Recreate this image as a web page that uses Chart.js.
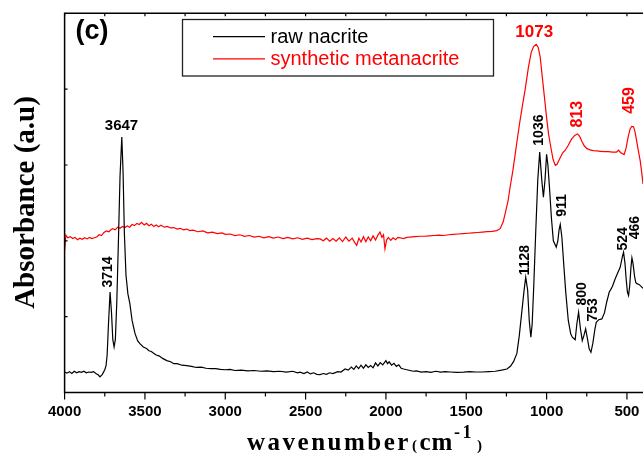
<!DOCTYPE html>
<html><head><meta charset="utf-8">
<script src="https://cdn.jsdelivr.net/npm/chart.js@4.4.1/dist/chart.umd.min.js"></script>
<style>
html,body{margin:0;padding:0;background:#fff;overflow:hidden;}
#wrap{position:relative;width:643px;height:455px;}
</style></head><body>
<div id="wrap"><canvas id="c" width="643" height="455"></canvas></div>
<script>
// ---------- data ----------
const seriesNames = ['raw nacrite', 'synthetic metanacrite'];

const blackWn = [4000,3985,3970,3955,3940,3925,3910,3895,3880,3865,3850,3835,3820,3805,3790,3780,3765,3750,3742,3735,3727,3717,3708,3700,3692,3684,3675,3665,3655,3644,3636,3628,3618,3606,3594,3580,3562,3545,3530,3510,3490,3475,3460,3448,3430,3410,3390,3364,3340,3320,3300,3270,3240,3210,3180,3150,3120,3090,3060,3030,3000,2970,2940,2900,2860,2820,2780,2740,2700,2660,2620,2580,2550,2535,2510,2490,2470,2450,2430,2410,2390,2370,2350,2330,2300,2280,2254,2235,2215,2200,2185,2170,2155,2140,2125,2110,2095,2080,2065,2050,2035,2020,2000,1990,1980,1965,1950,1935,1920,1905,1890,1870,1850,1830,1810,1780,1750,1720,1690,1660,1630,1600,1560,1517,1480,1440,1400,1360,1320,1280,1247,1225,1205,1185,1170,1155,1140,1130,1118,1108,1098,1090,1080,1068,1055,1043,1030,1020,1010,1000,992,982,970,958,940,930,922,915,905,892,880,865,850,840,822,812,801,790,778,768,757,745,735,724,712,700,691,675,656,640,625,610,600,590,573,555,542,530,521,512,505,497,490,483,475,469,462,452,445,438,425,412,400];
const blackAbs = [5.4,5.1,5.5,5.0,5.6,5.2,5.5,5.3,5.6,5.2,5.4,5.3,5.5,5.0,4.6,4.1,4.8,6.0,7.1,10,18,26.5,21,14,12,14,24,40,57,67.4,58,42,31,26,23.5,19,15.6,13.6,12.8,12.0,11.6,11.0,10.8,10.4,9.9,9.6,9.0,8.4,8.1,7.6,7.6,7.2,7.1,6.9,6.6,6.7,6.4,6.3,6.3,6.1,6.0,6.1,5.8,5.9,5.7,5.8,5.6,5.7,5.5,5.6,5.4,5.6,5.2,5.35,5.0,5.4,4.9,5.2,4.8,4.7,5.0,4.8,5.2,5.0,5.5,5.4,6.2,5.9,6.7,6.1,7.0,6.3,7.2,6.4,7.3,6.6,7.1,6.5,7.8,7.0,7.9,7.3,8.4,7.6,8.1,7.2,7.7,6.9,7.3,6.4,6.2,6.0,5.8,5.6,5.7,5.4,5.5,5.3,5.6,5.4,5.5,5.4,5.3,5.35,5.5,5.4,5.4,5.5,5.6,5.9,6.2,6.9,8.2,10.3,15,21,27,30.4,27,19,14.6,18,28,42,56,63.4,56,51.5,56,62.8,60,54,46,40,38.3,40,43,44.3,41,33,26,19,15.5,14.6,13.9,18,21.2,17,13.7,15,16.8,14,11.5,10.6,13,16.5,18.5,19.2,19.4,21,24,26.5,27.2,28,30,31.8,33,35.5,37,34,30,26.5,25.6,28,33,35.5,34,30.5,29,28.7,28.5,28,27.5];

const redWn = [4000,3992,3980,3965,3950,3935,3920,3905,3890,3875,3860,3845,3830,3815,3800,3785,3770,3755,3740,3725,3710,3700,3685,3670,3655,3640,3625,3610,3595,3580,3565,3550,3535,3521,3505,3490,3475,3460,3445,3430,3415,3400,3380,3360,3340,3320,3300,3280,3260,3240,3220,3200,3170,3140,3110,3080,3050,3020,3000,2970,2940,2910,2880,2850,2820,2790,2760,2730,2700,2670,2640,2610,2580,2550,2520,2490,2460,2430,2410,2390,2370,2350,2330,2310,2290,2270,2250,2230,2210,2195,2182,2168,2155,2140,2125,2110,2095,2080,2065,2050,2037,2025,2015,2006,1996,1985,1970,1955,1940,1925,1912,1890,1870,1850,1820,1790,1760,1730,1700,1670,1640,1610,1580,1550,1520,1490,1460,1430,1400,1370,1340,1310,1289,1270,1258,1240,1227,1210,1195,1180,1165,1150,1135,1113,1095,1080,1065,1052,1040,1029,1015,1000,988,975,960,946,935,920,900,884,865,845,825,808,795,780,765,749,730,710,687,665,640,615,590,565,552,540,530,517,505,492,480,470,459,450,440,430,417,408,400];
const redAbs = [37.5,41.5,40.8,41.1,40.6,40.9,40.3,40.7,40.4,40.8,40.5,40.9,40.6,40.8,41.0,41.6,41.4,42.2,42.6,42.4,43.0,43.2,42.9,43.6,43.3,43.8,43.5,43.9,43.6,44.3,44.0,44.6,44.3,44.9,44.2,44.6,44.0,44.4,43.8,44.2,43.7,44.1,43.6,43.8,43.4,43.5,43.1,43.3,42.9,43.1,42.7,42.8,42.4,42.6,42.1,42.3,41.9,42.1,41.7,41.8,41.4,41.6,41.2,41.4,41.0,41.2,40.8,41.1,40.7,41.0,40.6,40.9,40.5,40.8,40.4,40.7,40.3,40.6,40.5,40.0,40.7,39.9,40.6,39.9,40.8,39.8,41.0,39.9,40.7,39.6,38.8,40.7,39.7,41.1,39.8,41.0,40.0,41.3,40.2,41.5,42.3,40.9,41.6,37.9,40.2,40.9,40.1,40.8,40.3,40.9,40.8,40.6,40.9,41.0,41.1,41.2,41.2,41.3,41.4,41.5,41.4,41.6,41.7,41.8,41.9,42.0,42.1,42.2,42.3,42.4,42.5,42.7,43.2,45.0,47.2,50.5,54.2,58.5,63,67.5,71.8,75.8,79.5,85.8,89.8,91.3,91.8,91.0,88.5,84.1,78.5,72.5,68.2,65,61.5,59.9,60.2,61.5,63.2,63.9,65.2,66.8,67.8,68.2,67.6,66.2,65.0,64.3,64.0,63.8,63.7,63.6,63.5,63.5,63.4,63.4,63.9,63.3,63.0,62.8,64.5,67.5,69.5,70.2,70.1,68.8,66.5,64.0,61.0,58.0,55.0];

const xTickValues = [4000,3500,3000,2500,2000,1500,1000,500];
const xMinorTickValues = [3750,3250,2750,2250,1750,1250,750];
const yTickValues = [20,40,60,80];

const blackPeakTexts = ['3647','3714','1128','1036','911','800','753','524','466'];
const redPeakTexts = ['1073','813','459'];
const xTitleMain = 'wavenumber', xTitleUnit = 'cm', xTitleExp = '-1';
const yTitle = 'Absorbance (a.u)';
const panelTag = '(c)';

// ---------- layout / style (not data) ----------
// anchor of each label in chart coordinates [wavenumber, absorbance], rotated flag
const blackPeakAnchors = [[3646,70.3,0],[3727,31.8,1],[1133,34.9,1],[1047,69.2,1],[903,49.3,1],[780,26.0,1],[708,21.8,1],[523,40.5,1],[450,43.5,1]];
const redPeakAnchors = [[1077,95.0,0],[806,73.4,1],[484,77.0,1]];

const toXY = (wn, ab) => wn.map((w, i) => ({x: w, y: ab[i]}));

const decor = {
  id: 'decor',
  afterDraw(chart) {
    const {ctx, chartArea: a, scales: {x, y}} = chart;
    ctx.save();
    ctx.strokeStyle = '#000';
    ctx.lineWidth = 1.5;
    ctx.beginPath();
    ctx.moveTo(a.left, a.top); ctx.lineTo(a.right + 3, a.top);
    ctx.moveTo(a.left, a.top - 0.7); ctx.lineTo(a.left, a.bottom + 0.7);
    ctx.moveTo(a.left, a.bottom); ctx.lineTo(a.right + 3, a.bottom);
    ctx.stroke();
    ctx.lineWidth = 1.2;
    ctx.beginPath();
    xTickValues.forEach(w => {
      const p = x.getPixelForValue(w);
      ctx.moveTo(p, a.bottom); ctx.lineTo(p, a.bottom + 7);
      ctx.moveTo(p, a.top); ctx.lineTo(p, a.top + 3);
    });
    xMinorTickValues.forEach(w => {
      const p = x.getPixelForValue(w);
      ctx.moveTo(p, a.bottom); ctx.lineTo(p, a.bottom + 4);
      ctx.moveTo(p, a.top); ctx.lineTo(p, a.top + 3);
    });
    yTickValues.forEach(v => {
      const p = y.getPixelForValue(v);
      ctx.moveTo(a.left, p); ctx.lineTo(a.left + 3, p);
    });
    ctx.stroke();

    const drawLabel = (txt, anc, font, color) => {
      const px = x.getPixelForValue(anc[0]);
      const py = y.getPixelForValue(anc[1]);
      ctx.save();
      ctx.translate(px, py);
      if (anc[2]) ctx.rotate(-Math.PI / 2);
      ctx.font = font;
      ctx.fillStyle = color;
      ctx.textAlign = 'center';
      ctx.textBaseline = 'middle';
      ctx.fillText(txt, 0, 0);
      ctx.restore();
    };
    blackPeakTexts.forEach((t, i) => {
      const anc = blackPeakAnchors[i];
      drawLabel(t, anc, anc[2] ? 'bold 14px "Liberation Sans"' : 'bold 15px "Liberation Sans"', '#000');
    });
    redPeakTexts.forEach((t, i) => {
      const anc = redPeakAnchors[i];
      drawLabel(t, anc, anc[2] ? 'bold 16px "Liberation Sans"' : 'bold 17px "Liberation Sans"', '#ff0000');
    });

    ctx.font = 'bold 27px "Liberation Sans"';
    ctx.fillStyle = '#000';
    ctx.textAlign = 'center';
    ctx.textBaseline = 'middle';
    ctx.fillText(panelTag, 92, 32);

    ctx.lineWidth = 1.3;
    ctx.strokeStyle = '#222';
    ctx.strokeRect(182.5, 19.5, 311, 56.5);
    const ds = chart.data.datasets;
    const rows = [36.7, 58.8];
    ds.forEach((d, i) => {
      ctx.strokeStyle = d.borderColor;
      ctx.lineWidth = 1.2;
      ctx.beginPath(); ctx.moveTo(213, rows[i]); ctx.lineTo(265, rows[i]); ctx.stroke();
      ctx.font = '20px "Liberation Sans"';
      ctx.fillStyle = d.borderColor;
      ctx.textAlign = 'left';
      ctx.textBaseline = 'middle';
      ctx.fillText(d.label, 270.5, rows[i] + 0.5);
    });

    ctx.save();
    ctx.translate(27, 202.5);
    ctx.rotate(-Math.PI / 2);
    ctx.font = 'bold 29px "Liberation Serif"';
    ctx.fillStyle = '#000';
    ctx.textAlign = 'center';
    ctx.textBaseline = 'middle';
    ctx.fillText(yTitle, 0, 0);
    ctx.restore();

    ctx.fillStyle = '#000';
    ctx.textAlign = 'left';
    ctx.textBaseline = 'alphabetic';
    ctx.font = 'bold 25px "Liberation Serif"';
    ctx.letterSpacing = '2.5px';
    ctx.fillText(xTitleMain, 247, 450);
    ctx.letterSpacing = '0px';
    ctx.font = 'bold 15px "Liberation Serif"';
    ctx.fillText('(', 412, 450);
    ctx.font = 'bold 25px "Liberation Serif"';
    ctx.letterSpacing = '1px';
    ctx.fillText(xTitleUnit, 419.5, 450);
    ctx.letterSpacing = '2.5px';
    ctx.font = 'bold 18px "Liberation Serif"';
    ctx.fillText(xTitleExp, 454, 438);
    ctx.letterSpacing = '0px';
    ctx.font = 'bold 15px "Liberation Serif"';
    ctx.fillText(')', 477, 450);
    ctx.restore();
  }
};

new Chart(document.getElementById('c'), {
  type: 'scatter',
  data: {
    datasets: [
      {label: seriesNames[0], data: toXY(blackWn, blackAbs), showLine: true, borderColor: '#000000', borderWidth: 1.2, pointRadius: 0, tension: 0},
      {label: seriesNames[1], data: toXY(redWn, redAbs), showLine: true, borderColor: '#ff0000', borderWidth: 1.2, pointRadius: 0, tension: 0}
    ]
  },
  options: {
    responsive: false,
    animation: false,
    devicePixelRatio: 1,
    layout: {padding: {top: 13.3, left: 0, right: 0, bottom: 0}},
    plugins: {legend: {display: false}, tooltip: {enabled: false}},
    scales: {
      x: {
        type: 'linear', reverse: true, min: 400, max: 4000,
        grid: {display: false, drawTicks: false},
        border: {display: false},
        afterBuildTicks: s => { s.ticks = xTickValues.map(v => ({value: v})); },
        ticks: {
          autoSkip: false, maxRotation: 0, minRotation: 0,
          padding: 10.5, color: '#000',
          font: {family: 'Liberation Sans', size: 15, weight: 'bold'},
          callback: v => String(v)
        },
        afterFit: s => { s.height = 62.5; s.paddingLeft = 0; s.paddingRight = 0; }
      },
      y: {
        min: 0, max: 100,
        grid: {display: false, drawTicks: false},
        border: {display: false},
        ticks: {display: false},
        afterFit: s => { s.width = 64.6; }
      }
    }
  },
  plugins: [decor]
});
</script>
</body></html>
